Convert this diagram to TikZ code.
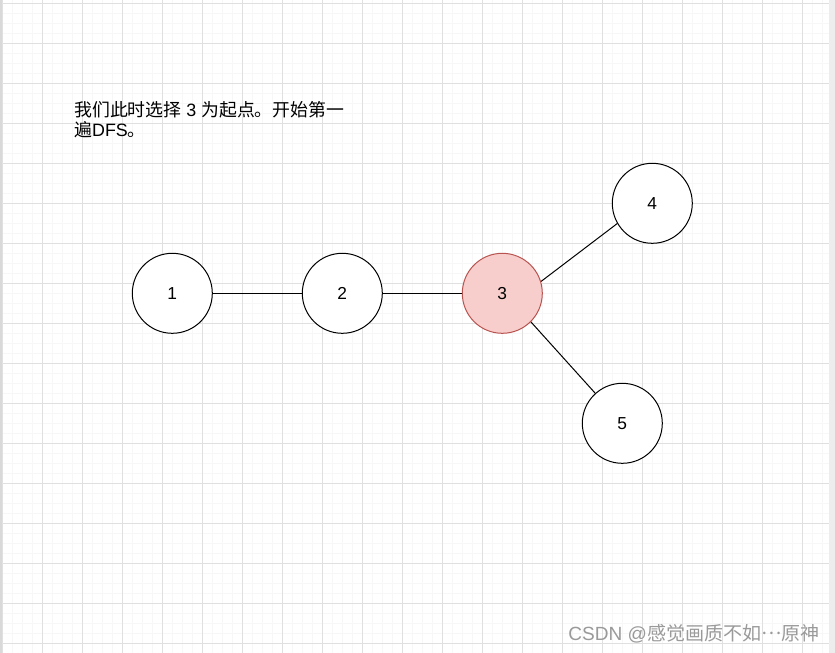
\documentclass[tikz,border=0pt]{standalone}
\usepackage{fontspec}
\setmainfont{Liberation Sans}
\newfontfamily\cjk{Noto Sans CJK SC}
\definecolor{majorgrid}{HTML}{E0E0E0}
\definecolor{minorgrid}{HTML}{F7F7F7}
\definecolor{redfill}{HTML}{F8CECC}
\definecolor{redline}{HTML}{B85450}
\definecolor{wmark}{HTML}{9A9A9A}
\tikzset{
  vertex/.style={circle, draw=black, line width=0.75pt, fill=white, minimum size=60pt, inner sep=0pt, font=\fontsize{13}{15}\selectfont},
  hot/.style={fill=redfill, draw=redline},
  edge/.style={draw=black, line width=0.75pt},
  caption/.style={anchor=base west, inner sep=0pt, font=\fontsize{13.4}{16}\selectfont},
  watermark/.style={anchor=base east, inner sep=0pt, text=wmark, font=\fontsize{14.3}{16}\selectfont}
}
\begin{document}
\begin{tikzpicture}[x=0.75pt, y=-0.75pt]
\useasboundingbox (0,0) rectangle (835,653);
\fill[white] (0,0) rectangle (835,653);
% minor grid
\foreach \i in {0,...,83} {
  \draw[minorgrid, line width=0.75pt] ({2.7+10*\i},0) -- ({2.7+10*\i},653);
}
\foreach \j in {0,...,65} {
  \draw[minorgrid, line width=0.75pt] (0,{3+10*\j}) -- (835,{3+10*\j});
}
% major grid
\foreach \i in {0,...,20} {
  \draw[majorgrid, line width=0.75pt] ({2.7+40*\i},0) -- ({2.7+40*\i},653);
}
\foreach \j in {0,...,16} {
  \draw[majorgrid, line width=0.75pt] (0,{3+40*\j}) -- (835,{3+40*\j});
}
% borders
\fill[black!15] (0,0) rectangle (2,653);
\fill[black!7] (829,0) rectangle (835,653);

% nodes
\node[vertex] (n1) at (172.3,293.3) {1};
\node[vertex] (n2) at (342.3,293.3) {2};
\node[vertex, hot] (n3) at (502.3,293.3) {3};
\node[vertex] (n4) at (652.3,203.3) {4};
\node[vertex] (n5) at (622.3,423.3) {5};

% edges
\draw[edge] (n1.east) -- (n2.west);
\draw[edge] (n2.east) -- (n3.west);
\draw[edge] (n3.17) -- (n4.210);
\draw[edge] (n3.-45) -- (n5.132);

% caption
\node[caption] (t1) at (74,116) {{\cjk 我们此时选择} 3 {\cjk 为起点。开始第一}};
\node[caption] (t2) at (74,136) {{\cjk 遍}DFS{\cjk 。}};

% watermark
\node[watermark] (wm) at (820,640) {CSDN @{\cjk 感觉画质不如\raisebox{0.3em}{…}原神}};
\end{tikzpicture}
\end{document}
